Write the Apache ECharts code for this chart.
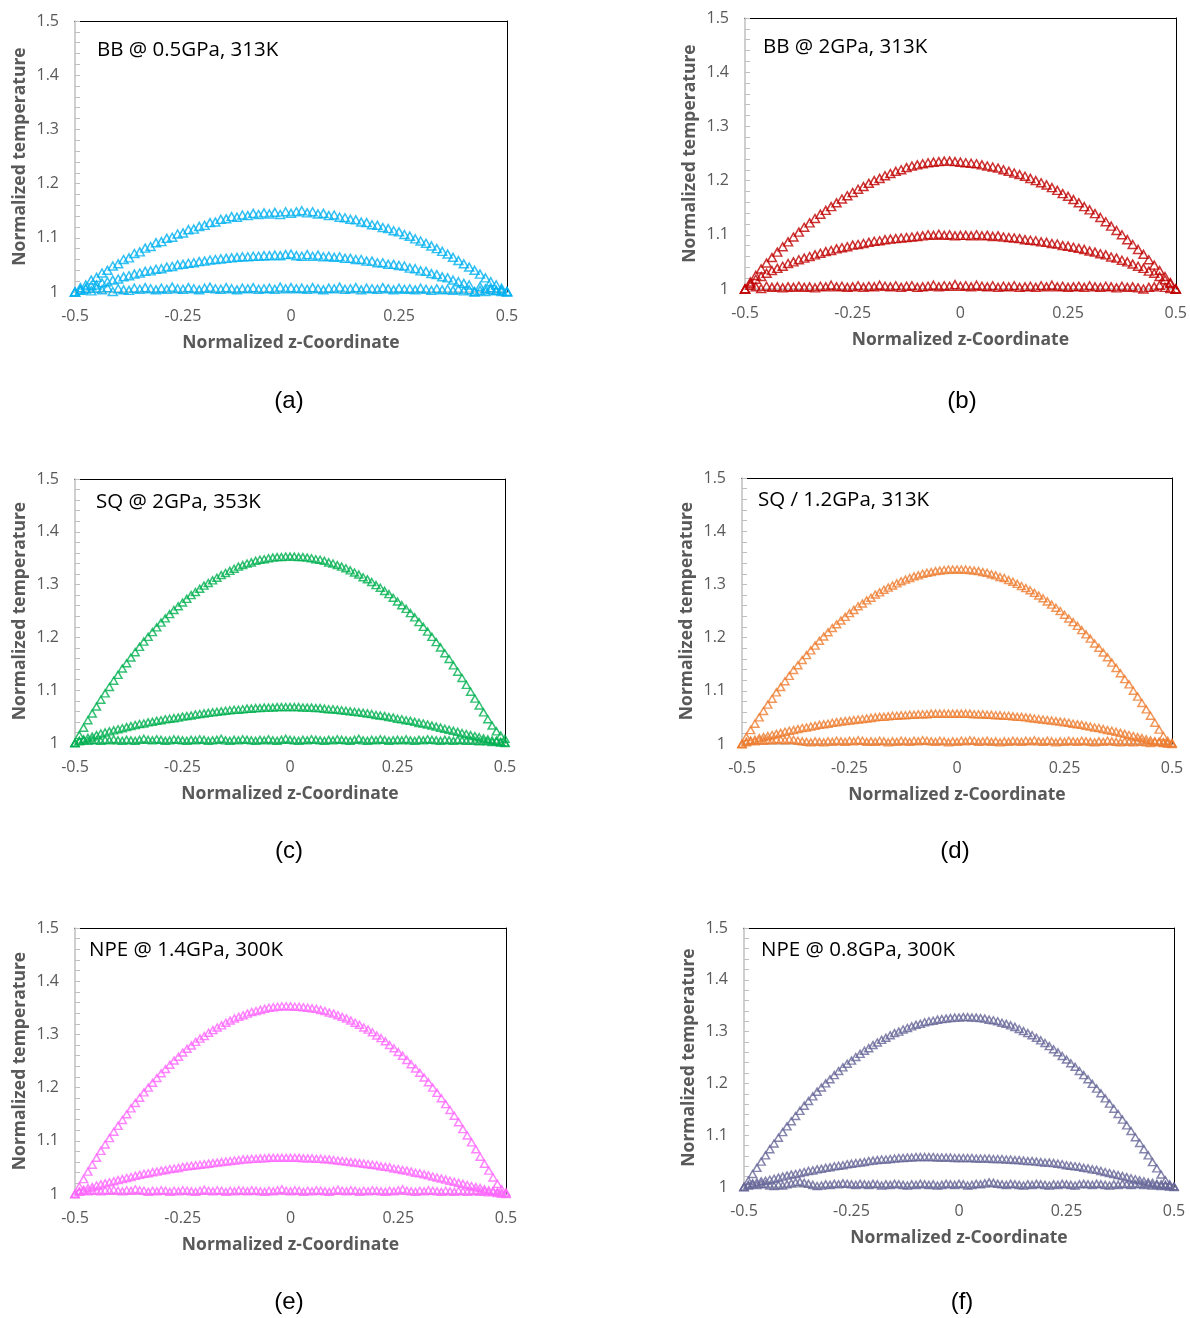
<!DOCTYPE html>
<html>
<head>
<meta charset="utf-8">
<script src="https://cdn.jsdelivr.net/npm/echarts@6/dist/echarts.min.js"></script>
<style>
html,body{margin:0;padding:0;background:#fff;}
#chart{width:1190px;height:1318px;}
</style>
</head>
<body>
<div id="chart"></div>
<script>
// ---------- data ----------
const xTicks = [-0.5, -0.25, 0, 0.25, 0.5];
const yTicks = [1, 1.1, 1.2, 1.3, 1.4, 1.5];

const xCoarse = [-0.5,-0.4875,-0.475,-0.4625,-0.45,-0.4375,-0.425,-0.4125,-0.4,-0.3875,-0.375,-0.3625,-0.35,-0.3375,-0.325,-0.3125,-0.3,-0.2875,-0.275,-0.2625,-0.25,-0.2375,-0.225,-0.2125,-0.2,-0.1875,-0.175,-0.1625,-0.15,-0.1375,-0.125,-0.1125,-0.1,-0.0875,-0.075,-0.0625,-0.05,-0.0375,-0.025,-0.0125,0,0.0125,0.025,0.0375,0.05,0.0625,0.075,0.0875,0.1,0.1125,0.125,0.1375,0.15,0.1625,0.175,0.1875,0.2,0.2125,0.225,0.2375,0.25,0.2625,0.275,0.2875,0.3,0.3125,0.325,0.3375,0.35,0.3625,0.375,0.3875,0.4,0.4125,0.425,0.4375,0.45,0.4625,0.475,0.4875,0.5];

const xFine = [-0.5,-0.49,-0.48,-0.47,-0.46,-0.45,-0.44,-0.43,-0.42,-0.41,-0.4,-0.39,-0.38,-0.37,-0.36,-0.35,-0.34,-0.33,-0.32,-0.31,-0.3,-0.29,-0.28,-0.27,-0.26,-0.25,-0.24,-0.23,-0.22,-0.21,-0.2,-0.19,-0.18,-0.17,-0.16,-0.15,-0.14,-0.13,-0.12,-0.11,-0.1,-0.09,-0.08,-0.07,-0.06,-0.05,-0.04,-0.03,-0.02,-0.01,0,0.01,0.02,0.03,0.04,0.05,0.06,0.07,0.08,0.09,0.1,0.11,0.12,0.13,0.14,0.15,0.16,0.17,0.18,0.19,0.2,0.21,0.22,0.23,0.24,0.25,0.26,0.27,0.28,0.29,0.3,0.31,0.32,0.33,0.34,0.35,0.36,0.37,0.38,0.39,0.4,0.41,0.42,0.43,0.44,0.45,0.46,0.47,0.48,0.49,0.5];

// (a) BB @ 0.5GPa, 313K
const aTop = [1.000,1.008,1.013,1.022,1.027,1.035,1.040,1.048,1.052,1.060,1.063,1.071,1.074,1.081,1.084,1.091,1.093,1.099,1.101,1.107,1.109,1.115,1.116,1.121,1.123,1.128,1.129,1.134,1.135,1.139,1.138,1.142,1.141,1.145,1.143,1.146,1.144,1.147,1.143,1.148,1.145,
 1.148,1.150,1.146,1.148,1.144,1.145,1.141,1.142,1.138,1.137,1.134,1.133,1.129,1.128,1.124,1.123,1.119,1.117,1.113,1.111,1.106,1.103,1.098,1.094,1.090,1.085,1.080,1.075,1.070,1.064,1.058,1.052,1.046,1.040,1.033,1.026,1.019,1.013,1.007,1.001];
const aMid = [1.000,1.004,1.006,1.011,1.013,1.017,1.019,1.022,1.024,1.028,1.030,1.033,1.035,1.038,1.039,1.042,1.043,1.046,1.047,1.050,1.051,1.053,1.054,1.056,1.057,1.059,1.060,1.061,1.062,1.063,1.064,1.065,1.065,1.066,1.066,1.067,1.067,1.068,1.067,1.069,1.070,
 1.067,1.066,1.069,1.066,1.068,1.065,1.066,1.064,1.065,1.062,1.062,1.060,1.060,1.057,1.057,1.054,1.054,1.051,1.051,1.049,1.048,1.044,1.043,1.039,1.038,1.034,1.032,1.028,1.026,1.022,1.019,1.016,1.013,1.001,1.010,1.006,1.008,1.003,1.004,1.001];
const aBot = [1.000,1.003,1.006,1.002,1.007,1.004,1.008,1.001,1.006,1.004,1.003,1.007,1.005,1.008,1.006,1.004,1.007,1.005,1.009,1.006,1.005,1.008,1.006,1.004,1.007,1.009,1.006,1.005,1.008,1.006,1.004,1.007,1.006,1.008,1.005,1.006,1.007,1.005,1.009,1.006,1.008,1.006,1.007,1.005,1.008,1.006,1.004,1.007,1.006,1.009,1.005,1.006,1.008,1.004,1.007,1.006,1.005,1.008,1.006,1.004,1.007,1.005,1.006,1.004,1.007,1.005,1.003,1.006,1.004,1.005,1.003,1.005,1.002,1.004,1.000,1.003,1.001,1.004,1.002,1.001,1.000];

// (b) BB @ 2GPa, 313K
const bTop = [1.000,1.013,1.025,1.037,1.048,1.058,1.068,1.078,1.087,1.096,1.105,1.114,1.122,1.130,1.138,1.145,1.152,1.159,1.166,1.172,1.178,1.184,1.189,1.195,1.200,1.204,1.209,1.213,1.217,1.220,1.224,1.227,1.229,1.231,1.233,1.234,1.235,1.236,1.236,1.235,1.234,
 1.233,1.232,1.231,1.229,1.227,1.225,1.223,1.220,1.217,1.214,1.211,1.208,1.204,1.200,1.196,1.192,1.187,1.182,1.176,1.171,1.165,1.159,1.152,1.146,1.139,1.132,1.124,1.116,1.108,1.100,1.091,1.082,1.073,1.064,1.054,1.044,1.034,1.023,1.012,1.000];
const bMid = [1.000,1.010,1.018,1.023,1.029,1.034,1.038,1.042,1.047,1.050,1.054,1.057,1.060,1.063,1.066,1.069,1.071,1.074,1.076,1.078,1.081,1.082,1.084,1.086,1.088,1.089,1.091,1.092,1.093,1.094,1.095,1.096,1.097,1.098,1.100,1.099,1.101,1.099,1.100,1.098,1.099,
 1.099,1.098,1.100,1.098,1.099,1.097,1.098,1.096,1.095,1.094,1.093,1.091,1.090,1.089,1.087,1.086,1.084,1.083,1.080,1.079,1.077,1.075,1.073,1.070,1.068,1.065,1.063,1.059,1.057,1.053,1.050,1.046,1.042,1.038,1.033,1.029,1.023,1.017,1.010,1.000];
const bBot = [1.000,1.007,1.004,1.001,1.005,1.003,1.004,1.002,1.004,1.003,1.005,1.003,1.004,1.002,1.005,1.004,1.007,1.004,1.005,1.003,1.004,1.006,1.003,1.005,1.004,1.007,1.005,1.004,1.006,1.003,1.005,1.006,1.003,1.004,1.005,1.007,1.004,1.006,1.005,1.008,1.005,1.006,1.004,1.007,1.005,1.004,1.006,1.003,1.005,1.004,1.006,1.003,1.004,1.005,1.003,1.006,1.004,1.007,1.004,1.005,1.003,1.004,1.005,1.003,1.006,1.004,1.003,1.005,1.004,1.002,1.005,1.003,1.004,1.002,1.000,1.003,1.004,1.007,1.003,1.001,1.000];

// (c) SQ @ 2GPa, 353K
const cTop = [1.000,1.015,1.029,1.043,1.056,1.069,1.082,1.094,1.106,1.118,1.129,1.141,1.151,1.162,1.172,1.182,1.192,1.201,1.210,1.219,1.228,1.236,1.244,1.252,1.259,1.266,1.273,1.280,1.286,1.292,1.298,1.303,1.308,1.313,1.318,1.322,1.326,1.330,1.334,1.337,1.340,1.342,1.345,1.347,1.348,1.350,1.351,1.352,1.352,1.353,1.353,
 1.353,1.352,1.352,1.351,1.350,1.348,1.347,1.345,1.342,1.340,1.337,1.334,1.331,1.327,1.323,1.319,1.314,1.310,1.305,1.299,1.294,1.288,1.282,1.275,1.268,1.261,1.254,1.246,1.238,1.229,1.220,1.211,1.201,1.191,1.181,1.170,1.159,1.147,1.135,1.123,1.110,1.097,1.084,1.071,1.058,1.045,1.033,1.022,1.014,1.008];
const cMid = [1.000,1.004,1.007,1.010,1.012,1.015,1.018,1.020,1.022,1.024,1.026,1.028,1.030,1.032,1.034,1.036,1.037,1.039,1.040,1.042,1.043,1.045,1.046,1.047,1.048,1.050,1.051,1.052,1.054,1.055,1.056,1.057,1.058,1.059,1.060,1.061,1.062,1.063,1.063,1.064,1.065,1.065,1.066,1.066,1.067,1.067,1.067,1.068,1.068,1.068,1.068,
 1.068,1.068,1.067,1.067,1.067,1.066,1.066,1.065,1.064,1.064,1.063,1.062,1.061,1.060,1.059,1.058,1.057,1.056,1.055,1.053,1.052,1.051,1.049,1.048,1.046,1.045,1.043,1.042,1.040,1.038,1.037,1.035,1.033,1.031,1.029,1.027,1.025,1.023,1.021,1.019,1.017,1.015,1.013,1.011,1.009,1.007,1.005,1.004,1.002,1.001];
const cBot = [1.000,1.003,1.005,1.004,1.006,1.005,1.004,1.006,1.005,1.007,1.005,1.004,1.006,1.005,1.004,1.006,1.008,1.006,1.005,1.007,1.006,1.004,1.005,1.007,1.006,1.005,1.004,1.006,1.005,1.007,1.006,1.004,1.005,1.006,1.008,1.005,1.004,1.006,1.005,1.007,1.006,1.005,1.004,1.006,1.005,1.007,1.005,1.004,1.006,1.008,1.006,1.005,1.004,1.006,1.005,1.007,1.006,1.005,1.004,1.006,1.005,1.007,1.006,1.005,1.004,1.006,1.008,1.005,1.004,1.006,1.005,1.007,1.006,1.004,1.005,1.006,1.005,1.007,1.005,1.004,1.006,1.005,1.007,1.006,1.005,1.004,1.006,1.005,1.004,1.006,1.005,1.004,1.005,1.004,1.003,1.004,1.003,1.002,1.003,1.001,1.000];

// (d) SQ / 1.2GPa, 313K
const dTop = [1.000,1.013,1.026,1.038,1.050,1.062,1.074,1.085,1.097,1.107,1.118,1.128,1.139,1.148,1.158,1.167,1.176,1.185,1.194,1.202,1.210,1.218,1.225,1.232,1.239,1.246,1.252,1.259,1.264,1.270,1.275,1.281,1.285,1.290,1.294,1.298,1.302,1.306,1.309,1.312,1.315,1.317,1.320,1.322,1.323,1.325,1.326,1.327,1.328,1.328,1.328,
 1.328,1.328,1.327,1.326,1.325,1.323,1.322,1.319,1.317,1.314,1.312,1.308,1.305,1.301,1.297,1.293,1.289,1.284,1.279,1.274,1.268,1.262,1.256,1.250,1.243,1.236,1.229,1.222,1.214,1.206,1.198,1.189,1.181,1.172,1.163,1.153,1.143,1.133,1.122,1.112,1.100,1.089,1.077,1.065,1.053,1.040,1.027,1.015,1.006,1.002];
const dMid = [1.000,1.003,1.006,1.008,1.011,1.013,1.015,1.017,1.019,1.021,1.023,1.025,1.026,1.028,1.030,1.031,1.033,1.034,1.036,1.037,1.038,1.040,1.041,1.042,1.043,1.044,1.045,1.046,1.047,1.048,1.049,1.050,1.051,1.051,1.052,1.053,1.053,1.054,1.054,1.055,1.055,1.056,1.056,1.056,1.057,1.057,1.057,1.057,1.057,1.057,1.057,
 1.057,1.057,1.057,1.056,1.056,1.056,1.055,1.055,1.054,1.054,1.053,1.053,1.052,1.051,1.051,1.050,1.049,1.048,1.047,1.046,1.045,1.044,1.043,1.042,1.041,1.040,1.038,1.037,1.036,1.034,1.033,1.031,1.030,1.028,1.026,1.025,1.023,1.021,1.019,1.017,1.015,1.013,1.011,1.009,1.007,1.005,1.004,1.003,1.002,1.001];
const dBot = [1.000,1.004,1.006,1.005,1.007,1.006,1.008,1.007,1.009,1.008,1.007,1.009,1.008,1.006,1.005,1.004,1.003,1.005,1.004,1.003,1.005,1.004,1.006,1.005,1.004,1.006,1.005,1.007,1.006,1.004,1.005,1.004,1.006,1.005,1.003,1.005,1.004,1.006,1.005,1.004,1.006,1.005,1.007,1.006,1.005,1.004,1.006,1.005,1.003,1.005,1.004,1.006,1.005,1.007,1.006,1.004,1.005,1.006,1.004,1.005,1.003,1.005,1.004,1.006,1.005,1.004,1.006,1.005,1.007,1.005,1.004,1.006,1.005,1.003,1.005,1.004,1.006,1.005,1.004,1.006,1.005,1.004,1.003,1.005,1.004,1.006,1.005,1.004,1.003,1.005,1.004,1.003,1.005,1.004,1.003,1.002,1.004,1.003,1.002,1.001,1.000];

// (e) NPE @ 1.4GPa, 300K
const eTop = [1.000,1.014,1.028,1.042,1.055,1.068,1.081,1.093,1.105,1.117,1.128,1.139,1.150,1.161,1.171,1.181,1.191,1.200,1.209,1.218,1.227,1.235,1.243,1.251,1.258,1.266,1.273,1.279,1.286,1.292,1.297,1.303,1.308,1.313,1.317,1.322,1.326,1.330,1.333,1.336,1.339,1.342,1.344,1.346,1.348,1.350,1.351,1.352,1.353,1.353,1.353,
 1.352,1.352,1.351,1.350,1.349,1.348,1.346,1.344,1.341,1.339,1.336,1.333,1.330,1.326,1.322,1.318,1.313,1.309,1.304,1.298,1.293,1.287,1.280,1.274,1.267,1.260,1.252,1.244,1.236,1.228,1.219,1.210,1.200,1.190,1.180,1.169,1.158,1.147,1.135,1.122,1.110,1.097,1.084,1.070,1.057,1.044,1.031,1.019,1.009,1.003];
const eMid = [1.000,1.005,1.008,1.011,1.013,1.016,1.018,1.020,1.022,1.024,1.026,1.028,1.030,1.032,1.034,1.036,1.038,1.039,1.041,1.042,1.044,1.045,1.047,1.048,1.049,1.051,1.052,1.053,1.054,1.055,1.056,1.057,1.058,1.059,1.060,1.061,1.062,1.063,1.064,1.065,1.065,1.066,1.066,1.067,1.067,1.068,1.068,1.068,1.068,1.068,1.068,
 1.068,1.068,1.067,1.067,1.067,1.066,1.066,1.065,1.065,1.064,1.063,1.062,1.061,1.060,1.059,1.058,1.057,1.056,1.055,1.054,1.052,1.051,1.050,1.048,1.047,1.045,1.044,1.042,1.040,1.039,1.037,1.035,1.033,1.031,1.029,1.027,1.025,1.023,1.021,1.019,1.017,1.015,1.013,1.011,1.009,1.007,1.006,1.004,1.002,1.001];
const eBot = [1.000,1.004,1.006,1.005,1.007,1.006,1.005,1.007,1.006,1.008,1.006,1.005,1.007,1.006,1.009,1.007,1.006,1.004,1.006,1.005,1.007,1.006,1.004,1.006,1.005,1.007,1.006,1.005,1.004,1.006,1.008,1.006,1.005,1.007,1.006,1.004,1.006,1.005,1.007,1.006,1.005,1.007,1.006,1.005,1.004,1.006,1.005,1.007,1.009,1.006,1.005,1.007,1.006,1.004,1.006,1.005,1.007,1.006,1.005,1.004,1.006,1.008,1.006,1.005,1.007,1.006,1.004,1.006,1.005,1.007,1.006,1.005,1.004,1.006,1.005,1.007,1.009,1.006,1.005,1.004,1.006,1.005,1.007,1.006,1.005,1.004,1.006,1.005,1.004,1.006,1.005,1.004,1.005,1.006,1.004,1.005,1.003,1.004,1.002,1.001,1.000];

// (f) NPE @ 0.8GPa, 300K
const fTop = [1.000,1.012,1.025,1.037,1.049,1.061,1.073,1.084,1.095,1.106,1.117,1.127,1.137,1.147,1.157,1.166,1.175,1.184,1.192,1.200,1.208,1.216,1.224,1.231,1.238,1.244,1.251,1.257,1.263,1.268,1.274,1.279,1.284,1.288,1.293,1.297,1.300,1.304,1.307,1.310,1.313,1.315,1.318,1.320,1.321,1.323,1.324,1.325,1.326,1.327,1.327,
 1.328,1.328,1.327,1.327,1.326,1.325,1.323,1.322,1.320,1.317,1.315,1.312,1.309,1.305,1.301,1.297,1.293,1.288,1.283,1.278,1.272,1.266,1.260,1.253,1.246,1.239,1.232,1.224,1.216,1.208,1.199,1.190,1.181,1.171,1.161,1.151,1.141,1.130,1.119,1.108,1.096,1.085,1.073,1.061,1.048,1.036,1.024,1.013,1.005,1.001];
const fMid = [1.000,1.004,1.007,1.009,1.011,1.012,1.014,1.016,1.018,1.020,1.022,1.024,1.025,1.027,1.029,1.031,1.032,1.034,1.035,1.037,1.038,1.040,1.041,1.042,1.044,1.045,1.046,1.047,1.048,1.050,1.051,1.052,1.053,1.053,1.054,1.055,1.056,1.056,1.057,1.057,1.058,1.058,1.058,1.058,1.058,1.057,1.057,1.057,1.057,1.056,1.056,
 1.056,1.056,1.056,1.055,1.055,1.055,1.055,1.054,1.054,1.054,1.053,1.053,1.052,1.052,1.051,1.050,1.050,1.049,1.048,1.047,1.047,1.046,1.045,1.044,1.042,1.041,1.040,1.039,1.037,1.036,1.034,1.033,1.031,1.029,1.027,1.025,1.023,1.021,1.019,1.017,1.015,1.013,1.011,1.009,1.008,1.006,1.005,1.004,1.002,1.001];
const fBot = [1.000,1.003,1.005,1.004,1.006,1.005,1.003,1.002,1.004,1.003,1.005,1.007,1.009,1.010,1.008,1.006,1.004,1.002,1.003,1.005,1.004,1.006,1.005,1.007,1.006,1.005,1.004,1.006,1.005,1.004,1.006,1.005,1.003,1.005,1.004,1.006,1.005,1.004,1.003,1.005,1.004,1.006,1.005,1.004,1.005,1.003,1.004,1.006,1.005,1.004,1.006,1.005,1.003,1.004,1.006,1.005,1.007,1.009,1.008,1.006,1.005,1.004,1.006,1.005,1.004,1.003,1.005,1.004,1.006,1.005,1.004,1.003,1.005,1.004,1.006,1.005,1.004,1.003,1.005,1.006,1.005,1.004,1.006,1.005,1.004,1.003,1.005,1.004,1.006,1.005,1.004,1.005,1.006,1.004,1.005,1.003,1.004,1.002,1.003,1.001,1.000];

const panelTitles = ['BB @ 0.5GPa, 313K', 'BB @ 2GPa, 313K', 'SQ @ 2GPa, 353K', 'SQ / 1.2GPa, 313K', 'NPE @ 1.4GPa, 300K', 'NPE @ 0.8GPa, 300K'];
const panelTags = ['(a)', '(b)', '(c)', '(d)', '(e)', '(f)'];
const xAxisName = 'Normalized z-Coordinate';
const yAxisName = 'Normalized temperature';

// ---------- layout / style ----------
const panels = [
  {x: xCoarse, ys: [aTop, aMid, aBot], color: '#00B0F0', grid: {left: 75, top: 21, width: 432, height: 271}, titlePos: [97, 50], tagPos: [289, 401], sym: [9, 8]},
  {x: xCoarse, ys: [bTop, bMid, bBot], color: '#C00000', grid: {left: 745, top: 18, width: 432, height: 271}, titlePos: [763, 47], tagPos: [962, 401], sym: [9, 8]},
  {x: xFine, ys: [cTop, cMid, cBot], color: '#00B050', grid: {left: 75, top: 479, width: 430, height: 264}, titlePos: [96, 502], tagPos: [289, 851], sym: [8, 7]},
  {x: xFine, ys: [dTop, dMid, dBot], color: '#ED7D31', grid: {left: 742, top: 478, width: 430, height: 266}, titlePos: [758, 500], tagPos: [955, 851], sym: [8, 7]},
  {x: xFine, ys: [eTop, eMid, eBot], color: '#FF66FF', grid: {left: 75, top: 928, width: 431, height: 266}, titlePos: [89, 950], tagPos: [289, 1302], sym: [8, 7]},
  {x: xFine, ys: [fTop, fMid, fBot], color: '#666699', grid: {left: 744, top: 928, width: 430, height: 259}, titlePos: [761, 950], tagPos: [962, 1302], sym: [8, 7]}
];

const FONT = '"Open Sans", "Noto Sans", sans-serif';
const GREY = '#595959';

function zip(xs, ys) {
  const n = Math.min(xs.length, ys.length);
  const out = [];
  for (let i = 0; i < n; i++) out.push([xs[i], ys[i]]);
  return out;
}
function fmt(v) { return String(Math.round(v * 1000) / 1000); }

const grids = [], xAxes = [], yAxes = [], series = [], graphics = [];
panels.forEach((p, k) => {
  grids.push(Object.assign({containLabel: false}, p.grid));
  xAxes.push({
    gridIndex: k, type: 'value', position: 'bottom',
    min: xTicks[0], max: xTicks[xTicks.length - 1], interval: xTicks[1] - xTicks[0],
    axisLine: {onZero: false, lineStyle: {color: '#BFBFBF', width: 1.5}},
    axisTick: {show: false}, splitLine: {show: false},
    axisLabel: {color: GREY, fontFamily: FONT, fontSize: 16, margin: 16, formatter: fmt},
    name: xAxisName, nameLocation: 'middle', nameGap: 42,
    nameTextStyle: {color: GREY, fontFamily: FONT, fontSize: 17.5, fontWeight: 'bold'}
  });
  xAxes.push({
    gridIndex: k, type: 'value', position: 'top',
    min: xTicks[0], max: xTicks[xTicks.length - 1],
    axisLine: {onZero: false, lineStyle: {color: '#000', width: 1}},
    axisTick: {show: false}, axisLabel: {show: false}, splitLine: {show: false}
  });
  yAxes.push({
    gridIndex: k, type: 'value', position: 'left',
    min: yTicks[0], max: yTicks[yTicks.length - 1], interval: 0.1,
    axisLine: {show: true, onZero: false, lineStyle: {color: '#BFBFBF', width: 1.5}},
    axisTick: {show: true, inside: true, length: 5, lineStyle: {color: '#BFBFBF'}},
    minorTick: {show: true, splitNumber: 5, length: 5, lineStyle: {color: '#BFBFBF'}},
    splitLine: {show: false},
    axisLabel: {color: GREY, fontFamily: FONT, fontSize: 16, margin: 16, formatter: fmt},
    name: yAxisName, nameLocation: 'middle', nameGap: 46,
    nameTextStyle: {color: GREY, fontFamily: FONT, fontSize: 17.5, fontWeight: 'bold'}
  });
  yAxes.push({
    gridIndex: k, type: 'value', position: 'right',
    min: yTicks[0], max: yTicks[yTicks.length - 1],
    axisLine: {show: true, onZero: false, lineStyle: {color: '#000', width: 1}},
    axisTick: {show: false}, axisLabel: {show: false}, splitLine: {show: false}
  });
  p.ys.forEach((ys) => {
    series.push({
      type: 'scatter', xAxisIndex: 2 * k, yAxisIndex: 2 * k,
      data: zip(p.x, ys), symbol: 'triangle', symbolSize: p.sym,
      itemStyle: {color: 'rgba(0,0,0,0)', borderColor: p.color, borderWidth: 1.5},
      silent: true
    });
  });
  graphics.push({
    type: 'text', x: p.titlePos[0], y: p.titlePos[1],
    style: {text: panelTitles[k], fill: '#000', font: '20.5px ' + FONT, align: 'left', verticalAlign: 'middle'}
  });
  graphics.push({
    type: 'text', x: p.tagPos[0], y: p.tagPos[1],
    style: {text: panelTags[k], fill: '#000', font: '24px "Liberation Sans", Arial, sans-serif', align: 'center', verticalAlign: 'middle'}
  });
});

const chart = echarts.init(document.getElementById('chart'), null, {renderer: 'canvas'});
chart.setOption({
  backgroundColor: '#fff',
  animation: false,
  grid: grids,
  xAxis: xAxes,
  yAxis: yAxes,
  series: series,
  graphic: graphics
});
</script>
</body>
</html>
